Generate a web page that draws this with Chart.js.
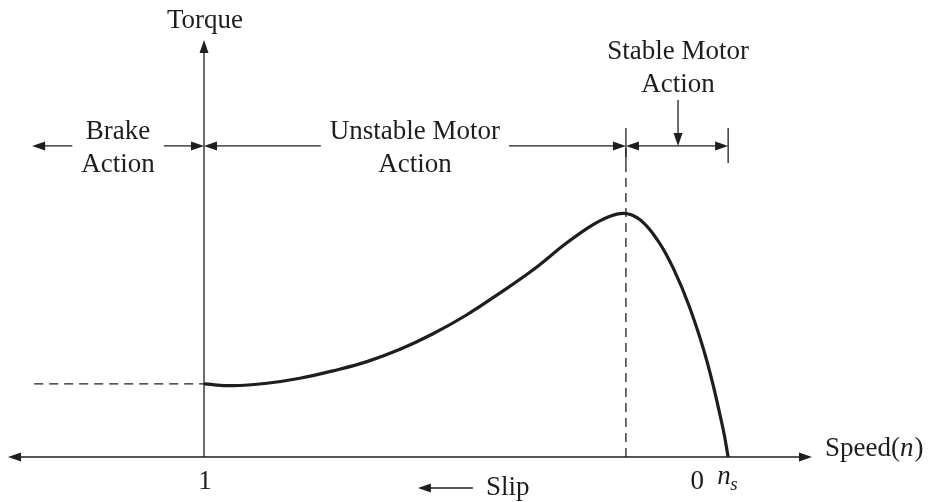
<!DOCTYPE html>
<html>
<head>
<meta charset="utf-8">
<script src="https://cdn.jsdelivr.net/npm/chart.js@4.4.0/dist/chart.umd.min.js"></script>
<style>
  html, body { margin: 0; padding: 0; background: #fff; }
  #wrap { width: 930px; height: 502px; }
</style>
</head>
<body>
<div id="wrap"><canvas id="torque" width="930" height="502"></canvas></div>
<script>
// speed as a fraction of synchronous speed: 0 is standstill (slip 1), 1 is n_s (slip 0)
const speed  = [0, 0.055, 0.12, 0.183, 0.246, 0.311, 0.374, 0.437, 0.5, 0.565, 0.628, 0.691, 0.737, 0.769, 0.802, 0.832, 0.865, 0.895, 0.927, 0.96, 0.99, 1.0];
// torque in units of the starting torque
const torque = [1.0, 0.977, 1.01, 1.078, 1.18, 1.306, 1.475, 1.688, 1.941, 2.248, 2.564, 2.926, 3.158, 3.281, 3.336, 3.247, 2.973, 2.589, 2.041, 1.301, 0.397, 0];

// operating regions along the speed axis
const regionNames = [['Brake', 'Action'], ['Unstable Motor', 'Action'], ['Stable Motor', 'Action']];
const regionEdges = [-0.328, 0, 0.805, 1.0];
const breakdownSpeed = 0.805;

// axis text
const torqueTitle = 'Torque';
const speedTitle = ['Speed(', 'n', ')'];
const slipTicks = ['1', '0'];
const slipTickSpeeds = [0, 1];
const syncLabel = ['n', 's'];
const slipTitle = 'Slip';

const X_MIN = -0.374, X_MAX = 1.160, Y_MAX = 5.71;
const ROW = 4.26;          // torque level of the region arrows
const INK = '#1e1e1e';
const FONT = '"Liberation Serif", "Times New Roman", serif';

function arrowHead(ctx, x, y, dx, dy) {
    const len = 13, half = 4.5;
    const px = -dy, py = dx;
    ctx.beginPath();
    ctx.moveTo(x, y);
    ctx.lineTo(x - dx * len + px * half, y - dy * len + py * half);
    ctx.lineTo(x - dx * len - px * half, y - dy * len - py * half);
    ctx.closePath();
    ctx.fill();
}

function line(ctx, x1, y1, x2, y2) {
    ctx.beginPath();
    ctx.moveTo(x1, y1);
    ctx.lineTo(x2, y2);
    ctx.stroke();
}

const diagram = {
    id: 'diagram',
    beforeDatasetsDraw(chart) {
        const { ctx, scales: { x, y } } = chart;
        const x0 = x.getPixelForValue(0), y0 = y.getPixelForValue(0);
        const left = x.getPixelForValue(X_MIN), right = x.getPixelForValue(X_MAX);
        const top = y.getPixelForValue(Y_MAX);
        ctx.save();
        ctx.strokeStyle = INK;
        ctx.fillStyle = INK;
        ctx.lineWidth = 1.3;
        line(ctx, left + 4, y0, right - 4, y0);
        arrowHead(ctx, left, y0, -1, 0);
        arrowHead(ctx, right, y0, 1, 0);
        line(ctx, x0, y0, x0, top + 4);
        arrowHead(ctx, x0, top, 0, -1);
        ctx.restore();
    },
    afterDraw(chart) {
        const { ctx, scales: { x, y } } = chart;
        const rowY = y.getPixelForValue(ROW);
        ctx.save();
        ctx.strokeStyle = INK;
        ctx.fillStyle = INK;
        ctx.lineWidth = 1.3;
        ctx.font = '27px ' + FONT;
        ctx.textAlign = 'center';
        ctx.textBaseline = 'alphabetic';

        // torque axis title
        ctx.fillText(torqueTitle, x.getPixelForValue(0) + 1, 28);

        // region arrows with their labels
        const edges = regionEdges.map(v => x.getPixelForValue(v));
        regionNames.forEach((lines, i) => {
            const a = edges[i], b = edges[i + 1], mid = (a + b) / 2;
            const w = Math.max(...lines.map(t => ctx.measureText(t).width));
            if (i < 2) {
                const gl = mid - w / 2 - 9, gr = mid + w / 2 + 9;
                line(ctx, a + 4, rowY, gl, rowY);
                line(ctx, gr, rowY, b - 4, rowY);
                ctx.fillText(lines[0], mid, rowY - 7);
                ctx.fillText(lines[1], mid, rowY + 26);
            } else {
                line(ctx, a + 4, rowY, b - 4, rowY);
                line(ctx, mid + 1, rowY - 46, mid + 1, rowY - 4);
                arrowHead(ctx, mid + 1, rowY, 0, 1);
                ctx.fillText(lines[0], mid + 1, rowY - 87);
                ctx.fillText(lines[1], mid + 1, rowY - 54);
            }
            arrowHead(ctx, a, rowY, -1, 0);
            arrowHead(ctx, b, rowY, 1, 0);
        });
        // end ticks of the stable region
        [breakdownSpeed, regionEdges[3]].forEach(v => {
            const px = x.getPixelForValue(v);
            line(ctx, px, rowY - 18, px, rowY + 17);
        });

        // slip ticks under the speed axis
        slipTicks.forEach((t, i) => {
            const px = x.getPixelForValue(slipTickSpeeds[i]);
            ctx.fillText(t, i === 0 ? px + 1 : px - 31, 489);
        });
        const ns = x.getPixelForValue(1);
        ctx.textAlign = 'left';
        ctx.font = 'italic 27px ' + FONT;
        ctx.fillText(syncLabel[0], ns - 11, 484);
        ctx.font = 'italic 19px ' + FONT;
        ctx.fillText(syncLabel[1], ns + 2, 490);

        // slip direction
        const sx = x.getPixelForValue(0.513);
        line(ctx, sx, 488, sx - 48, 488);
        arrowHead(ctx, sx - 55, 488, -1, 0);
        ctx.font = '27px ' + FONT;
        ctx.fillText(slipTitle, sx + 13, 495);

        // speed axis title
        let tx = x.getPixelForValue(X_MAX) + 13;
        const ty = 456;
        ctx.fillText(speedTitle[0], tx, ty);
        tx += ctx.measureText(speedTitle[0]).width;
        ctx.font = 'italic 27px ' + FONT;
        ctx.fillText(speedTitle[1], tx, ty);
        tx += ctx.measureText(speedTitle[1]).width + 1;
        ctx.font = '27px ' + FONT;
        ctx.fillText(speedTitle[2], tx, ty);
        ctx.restore();
    }
};

new Chart(document.getElementById('torque'), {
    type: 'line',
    data: {
        datasets: [{
            label: 'Torque',
            data: speed.map((s, i) => ({ x: s, y: torque[i] })),
            borderColor: INK,
            borderWidth: 3.2,
            pointRadius: 0,
            tension: 0.4,
            fill: false
        }, {
            label: 'Starting torque',
            data: [{ x: -0.324, y: torque[0] }, { x: 0, y: torque[0] }],
            borderColor: INK,
            borderWidth: 1.3,
            borderDash: [9, 6],
            pointRadius: 0
        }, {
            label: 'Breakdown',
            data: [{ x: breakdownSpeed, y: 0 }, { x: breakdownSpeed, y: ROW }],
            borderColor: INK,
            borderWidth: 1.3,
            borderDash: [9, 6],
            pointRadius: 0
        }]
    },
    options: {
        responsive: false,
        animation: false,
        layout: { padding: { left: 8, right: 118, top: 40, bottom: 45 } },
        plugins: { legend: { display: false }, tooltip: { enabled: false } },
        scales: {
            x: { type: 'linear', min: X_MIN, max: X_MAX, display: false },
            y: { type: 'linear', min: 0, max: Y_MAX, display: false }
        }
    },
    plugins: [diagram]
});
</script>
</body>
</html>
